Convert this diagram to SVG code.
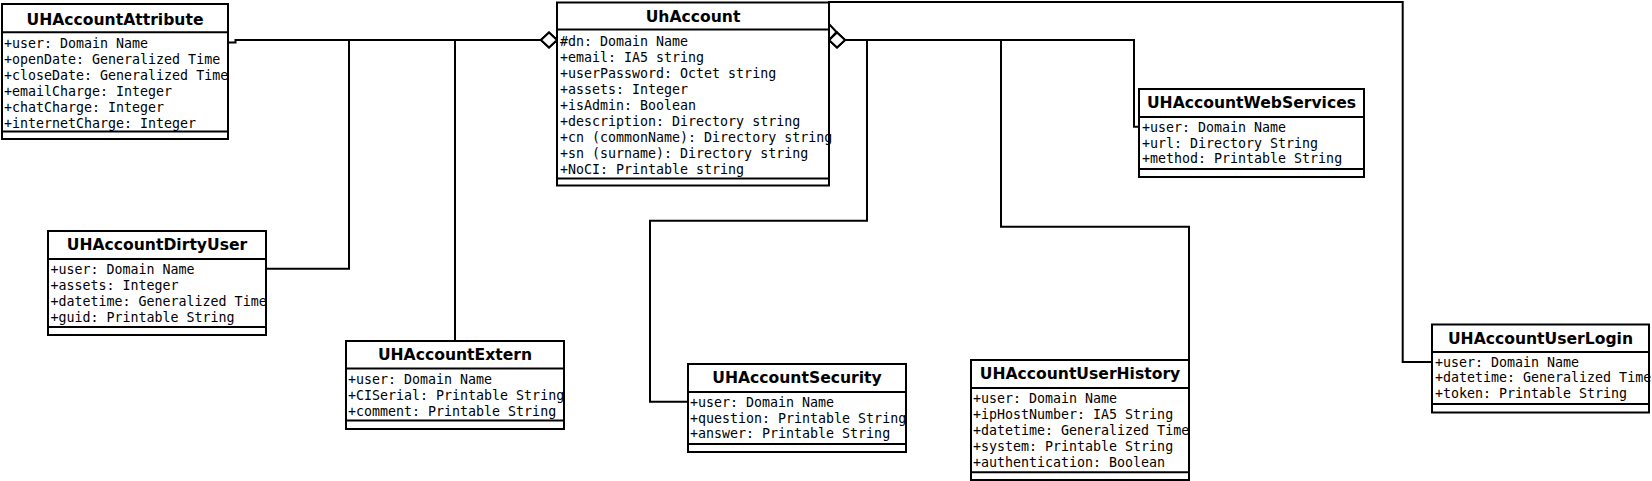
<svg xmlns="http://www.w3.org/2000/svg" width="1652" height="481" viewBox="0 0 1652 481">
<style>
.box{fill:#fff;stroke:none}
.bd{fill:none;stroke:#000;stroke-width:2}
.dv{stroke:#000;stroke-width:2}
.t{font-family:"DejaVu Sans",sans-serif;font-weight:bold;font-size:15.6px;text-anchor:middle;fill:#000}
.a{font-family:"DejaVu Sans Mono",monospace;font-size:13.3px;fill:#000}
.c{fill:none;stroke:#000;stroke-width:2}
</style>
<defs>
<marker id="dia" markerUnits="userSpaceOnUse" markerWidth="22" markerHeight="22" viewBox="-3 -11 22 22" refX="16" refY="0" orient="auto">
<path d="M0,0 L8,-7.5 L16,0 L8,7.5 Z" fill="#fff" stroke="#000" stroke-width="2"/>
</marker>
</defs>
<g id="connectors">
<path class="c" d="M228,42.5 H235.5 V40 H557" marker-end="url(#dia)"/>
<path class="c" d="M266,268.7 H349 V40 H557" marker-end="url(#dia)"/>
<path class="c" d="M455,341 V40 H557" marker-end="url(#dia)"/>
<path class="c" d="M688,401.7 H650 V220.7 H867 V40 H829" marker-end="url(#dia)"/>
<path class="c" d="M1189,360 V226.7 H1001 V40 H829" marker-end="url(#dia)"/>
<path class="c" d="M1139,126.7 H1134 V40 H829" marker-end="url(#dia)"/>
<path class="c" d="M1432,362 H1402.7 V2 H829 V40" marker-end="url(#dia)"/>
</g>
<g id="UHAccountAttribute">
<rect class="box" x="2" y="4" width="226" height="135"/>
<text class="t" x="115" y="24.7">UHAccountAttribute</text>
<text class="a" x="4" y="47.5">+user: Domain Name</text>
<text class="a" x="4" y="63.5">+openDate: Generalized Time</text>
<text class="a" x="4" y="79.5">+closeDate: Generalized Time</text>
<text class="a" x="4" y="95.5">+emailCharge: Integer</text>
<text class="a" x="4" y="111.5">+chatCharge: Integer</text>
<text class="a" x="4" y="127.5">+internetCharge: Integer</text>
<rect class="bd" x="2" y="4" width="226" height="135"/>
<line class="dv" x1="2" y1="32.3" x2="228" y2="32.3"/>
<line class="dv" x1="2" y1="131.5" x2="228" y2="131.5"/>
</g>
<g id="UhAccount">
<rect class="box" x="557" y="2.5" width="272" height="183"/>
<text class="t" x="693" y="21.7">UhAccount</text>
<text class="a" x="560" y="45.5">#dn: Domain Name</text>
<text class="a" x="560" y="61.5">+email: IA5 string</text>
<text class="a" x="560" y="77.5">+userPassword: Octet string</text>
<text class="a" x="560" y="93.5">+assets: Integer</text>
<text class="a" x="560" y="109.5">+isAdmin: Boolean</text>
<text class="a" x="560" y="125.5">+description: Directory string</text>
<text class="a" x="560" y="141.5">+cn (commonName): Directory string</text>
<text class="a" x="560" y="157.5">+sn (surname): Directory string</text>
<text class="a" x="560" y="173.5">+NoCI: Printable string</text>
<rect class="bd" x="557" y="2.5" width="272" height="183"/>
<line class="dv" x1="557" y1="29.5" x2="829" y2="29.5"/>
<line class="dv" x1="557" y1="178.5" x2="829" y2="178.5"/>
</g>
<g id="UHAccountWebServices">
<rect class="box" x="1139" y="89" width="225" height="88"/>
<text class="t" x="1251.5" y="108">UHAccountWebServices</text>
<text class="a" x="1142" y="131.5">+user: Domain Name</text>
<text class="a" x="1142" y="147.5">+url: Directory String</text>
<text class="a" x="1142" y="163.3">+method: Printable String</text>
<rect class="bd" x="1139" y="89" width="225" height="88"/>
<line class="dv" x1="1139" y1="117" x2="1364" y2="117"/>
<line class="dv" x1="1139" y1="169" x2="1364" y2="169"/>
</g>
<g id="UHAccountDirtyUser">
<rect class="box" x="48" y="231" width="218" height="104"/>
<text class="t" x="157" y="250">UHAccountDirtyUser</text>
<text class="a" x="50.5" y="273.5">+user: Domain Name</text>
<text class="a" x="50.5" y="289.5">+assets: Integer</text>
<text class="a" x="50.5" y="305.5">+datetime: Generalized Time</text>
<text class="a" x="50.5" y="321.5">+guid: Printable String</text>
<rect class="bd" x="48" y="231" width="218" height="104"/>
<line class="dv" x1="48" y1="259" x2="266" y2="259"/>
<line class="dv" x1="48" y1="327" x2="266" y2="327"/>
</g>
<g id="UHAccountExtern">
<rect class="box" x="346" y="341" width="218" height="88"/>
<text class="t" x="455" y="360">UHAccountExtern</text>
<text class="a" x="348" y="383.8">+user: Domain Name</text>
<text class="a" x="348" y="399.8">+CISerial: Printable String</text>
<text class="a" x="348" y="415.5">+comment: Printable String</text>
<rect class="bd" x="346" y="341" width="218" height="88"/>
<line class="dv" x1="346" y1="368.5" x2="564" y2="368.5"/>
<line class="dv" x1="346" y1="420.5" x2="564" y2="420.5"/>
</g>
<g id="UHAccountSecurity">
<rect class="box" x="688" y="364" width="218" height="88"/>
<text class="t" x="797" y="383">UHAccountSecurity</text>
<text class="a" x="690" y="406.5">+user: Domain Name</text>
<text class="a" x="690" y="422.5">+question: Printable String</text>
<text class="a" x="690" y="438.2">+answer: Printable String</text>
<rect class="bd" x="688" y="364" width="218" height="88"/>
<line class="dv" x1="688" y1="392" x2="906" y2="392"/>
<line class="dv" x1="688" y1="444" x2="906" y2="444"/>
</g>
<g id="UHAccountUserHistory">
<rect class="box" x="971" y="360" width="218" height="120"/>
<text class="t" x="1080" y="379">UHAccountUserHistory</text>
<text class="a" x="973" y="402.5">+user: Domain Name</text>
<text class="a" x="973" y="418.5">+ipHostNumber: IA5 String</text>
<text class="a" x="973" y="434.5">+datetime: Generalized Time</text>
<text class="a" x="973" y="450.5">+system: Printable String</text>
<text class="a" x="973" y="466.5">+authentication: Boolean</text>
<rect class="bd" x="971" y="360" width="218" height="120"/>
<line class="dv" x1="971" y1="388" x2="1189" y2="388"/>
<line class="dv" x1="971" y1="472.3" x2="1189" y2="472.3"/>
</g>
<g id="UHAccountUserLogin">
<rect class="box" x="1432" y="324.5" width="217" height="88"/>
<text class="t" x="1540.5" y="343.5">UHAccountUserLogin</text>
<text class="a" x="1435" y="366.8">+user: Domain Name</text>
<text class="a" x="1435" y="382.3">+datetime: Generalized Time</text>
<text class="a" x="1435" y="397.8">+token: Printable String</text>
<rect class="bd" x="1432" y="324.5" width="217" height="88"/>
<line class="dv" x1="1432" y1="352" x2="1649" y2="352"/>
<line class="dv" x1="1432" y1="404" x2="1649" y2="404"/>
</g>
</svg>
